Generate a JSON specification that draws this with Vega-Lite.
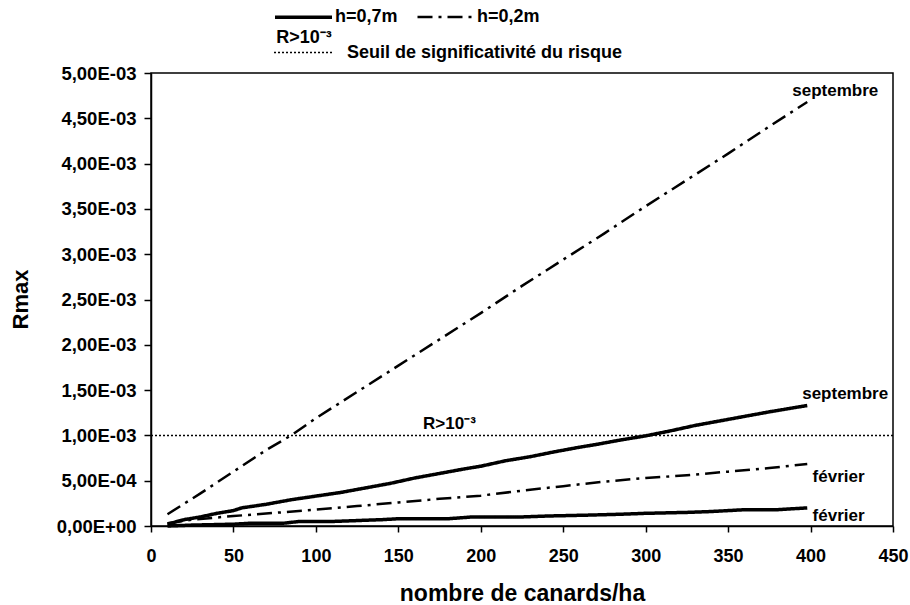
{
  "$schema": "https://vega.github.io/schema/vega-lite/v6.json",
  "width": 742,
  "height": 453,
  "autosize": {"type": "none"},
  "padding": {"left": 151, "top": 73, "right": 17, "bottom": 79},
  "background": "white",
  "config": {
    "view": {"stroke": "black", "strokeWidth": 1.5},
    "font": "Liberation Sans",
    "axis": {
      "grid": false,
      "domainColor": "black",
      "domainWidth": 1.5,
      "tickColor": "black",
      "tickWidth": 1.5,
      "labelFont": "Liberation Sans",
      "labelFontWeight": "bold",
      "labelFontSize": 18,
      "labelColor": "black",
      "titleFont": "Liberation Sans",
      "titleFontWeight": "bold",
      "titleFontSize": 23,
      "titleColor": "black"
    },
    "legend": {
      "orient": "none",
      "direction": "horizontal",
      "symbolType": "stroke",
      "symbolStrokeColor": "black",
      "labelFont": "Liberation Sans",
      "labelFontWeight": "bold",
      "labelFontSize": 18,
      "labelColor": "black",
      "labelLimit": 400,
      "padding": 0,
      "offset": 0
    }
  },
  "resolve": {
    "scale": {"strokeDash": "independent", "strokeWidth": "independent"},
    "legend": {"strokeDash": "independent", "strokeWidth": "independent"}
  },
  "datasets": {
    "curves": [
      {"h": "h=0,7m", "mois": "septembre", "x": 10, "y": 0.00002},
      {"h": "h=0,7m", "mois": "septembre", "x": 20, "y": 0.00007},
      {"h": "h=0,7m", "mois": "septembre", "x": 30, "y": 0.0001},
      {"h": "h=0,7m", "mois": "septembre", "x": 40, "y": 0.00014},
      {"h": "h=0,7m", "mois": "septembre", "x": 50, "y": 0.00017},
      {"h": "h=0,7m", "mois": "septembre", "x": 55, "y": 0.0002},
      {"h": "h=0,7m", "mois": "septembre", "x": 70, "y": 0.00024},
      {"h": "h=0,7m", "mois": "septembre", "x": 85, "y": 0.00029},
      {"h": "h=0,7m", "mois": "septembre", "x": 100, "y": 0.00033},
      {"h": "h=0,7m", "mois": "septembre", "x": 115, "y": 0.00037},
      {"h": "h=0,7m", "mois": "septembre", "x": 130, "y": 0.00042},
      {"h": "h=0,7m", "mois": "septembre", "x": 145, "y": 0.00047},
      {"h": "h=0,7m", "mois": "septembre", "x": 160, "y": 0.00053},
      {"h": "h=0,7m", "mois": "septembre", "x": 175, "y": 0.00058},
      {"h": "h=0,7m", "mois": "septembre", "x": 190, "y": 0.00063},
      {"h": "h=0,7m", "mois": "septembre", "x": 200, "y": 0.00066},
      {"h": "h=0,7m", "mois": "septembre", "x": 215, "y": 0.00072},
      {"h": "h=0,7m", "mois": "septembre", "x": 230, "y": 0.000765},
      {"h": "h=0,7m", "mois": "septembre", "x": 245, "y": 0.00082},
      {"h": "h=0,7m", "mois": "septembre", "x": 260, "y": 0.00087},
      {"h": "h=0,7m", "mois": "septembre", "x": 270, "y": 0.0009},
      {"h": "h=0,7m", "mois": "septembre", "x": 285, "y": 0.00095},
      {"h": "h=0,7m", "mois": "septembre", "x": 300, "y": 0.000995},
      {"h": "h=0,7m", "mois": "septembre", "x": 315, "y": 0.00105},
      {"h": "h=0,7m", "mois": "septembre", "x": 330, "y": 0.00111},
      {"h": "h=0,7m", "mois": "septembre", "x": 345, "y": 0.00116},
      {"h": "h=0,7m", "mois": "septembre", "x": 360, "y": 0.00121},
      {"h": "h=0,7m", "mois": "septembre", "x": 375, "y": 0.00126},
      {"h": "h=0,7m", "mois": "septembre", "x": 398, "y": 0.00133},
      {"h": "h=0,7m", "mois": "février", "x": 10, "y": 0.0},
      {"h": "h=0,7m", "mois": "février", "x": 25, "y": 0.00001},
      {"h": "h=0,7m", "mois": "février", "x": 50, "y": 0.00002},
      {"h": "h=0,7m", "mois": "février", "x": 60, "y": 0.00003},
      {"h": "h=0,7m", "mois": "février", "x": 80, "y": 0.00003},
      {"h": "h=0,7m", "mois": "février", "x": 90, "y": 0.00005},
      {"h": "h=0,7m", "mois": "février", "x": 110, "y": 0.00005},
      {"h": "h=0,7m", "mois": "février", "x": 125, "y": 0.00006},
      {"h": "h=0,7m", "mois": "février", "x": 140, "y": 0.00007},
      {"h": "h=0,7m", "mois": "février", "x": 150, "y": 0.00008},
      {"h": "h=0,7m", "mois": "février", "x": 180, "y": 0.00008},
      {"h": "h=0,7m", "mois": "février", "x": 195, "y": 0.0001},
      {"h": "h=0,7m", "mois": "février", "x": 225, "y": 0.0001},
      {"h": "h=0,7m", "mois": "février", "x": 240, "y": 0.00011},
      {"h": "h=0,7m", "mois": "février", "x": 265, "y": 0.00012},
      {"h": "h=0,7m", "mois": "février", "x": 285, "y": 0.00013},
      {"h": "h=0,7m", "mois": "février", "x": 300, "y": 0.00014},
      {"h": "h=0,7m", "mois": "février", "x": 325, "y": 0.00015},
      {"h": "h=0,7m", "mois": "février", "x": 340, "y": 0.00016},
      {"h": "h=0,7m", "mois": "février", "x": 360, "y": 0.00018},
      {"h": "h=0,7m", "mois": "février", "x": 380, "y": 0.00018},
      {"h": "h=0,7m", "mois": "février", "x": 398, "y": 0.0002},
      {"h": "h=0,2m", "mois": "septembre", "x": 10, "y": 0.00013},
      {"h": "h=0,2m", "mois": "septembre", "x": 30, "y": 0.00036},
      {"h": "h=0,2m", "mois": "septembre", "x": 50, "y": 0.0006},
      {"h": "h=0,2m", "mois": "septembre", "x": 70, "y": 0.00084},
      {"h": "h=0,2m", "mois": "septembre", "x": 85, "y": 0.001},
      {"h": "h=0,2m", "mois": "septembre", "x": 100, "y": 0.00119},
      {"h": "h=0,2m", "mois": "septembre", "x": 125, "y": 0.00148},
      {"h": "h=0,2m", "mois": "septembre", "x": 150, "y": 0.00177},
      {"h": "h=0,2m", "mois": "septembre", "x": 175, "y": 0.00206},
      {"h": "h=0,2m", "mois": "septembre", "x": 200, "y": 0.00235},
      {"h": "h=0,2m", "mois": "septembre", "x": 225, "y": 0.00265},
      {"h": "h=0,2m", "mois": "septembre", "x": 250, "y": 0.00294},
      {"h": "h=0,2m", "mois": "septembre", "x": 275, "y": 0.00323},
      {"h": "h=0,2m", "mois": "septembre", "x": 300, "y": 0.00353},
      {"h": "h=0,2m", "mois": "septembre", "x": 325, "y": 0.00382},
      {"h": "h=0,2m", "mois": "septembre", "x": 350, "y": 0.00411},
      {"h": "h=0,2m", "mois": "septembre", "x": 375, "y": 0.00441},
      {"h": "h=0,2m", "mois": "septembre", "x": 398, "y": 0.00468},
      {"h": "h=0,2m", "mois": "février", "x": 10, "y": 0.00003},
      {"h": "h=0,2m", "mois": "février", "x": 25, "y": 0.00007},
      {"h": "h=0,2m", "mois": "février", "x": 50, "y": 0.00011},
      {"h": "h=0,2m", "mois": "février", "x": 75, "y": 0.000145},
      {"h": "h=0,2m", "mois": "février", "x": 100, "y": 0.00018},
      {"h": "h=0,2m", "mois": "février", "x": 125, "y": 0.00022},
      {"h": "h=0,2m", "mois": "février", "x": 150, "y": 0.00026},
      {"h": "h=0,2m", "mois": "février", "x": 175, "y": 0.0003},
      {"h": "h=0,2m", "mois": "février", "x": 200, "y": 0.000335},
      {"h": "h=0,2m", "mois": "février", "x": 225, "y": 0.00039},
      {"h": "h=0,2m", "mois": "février", "x": 250, "y": 0.00044},
      {"h": "h=0,2m", "mois": "février", "x": 275, "y": 0.00049},
      {"h": "h=0,2m", "mois": "février", "x": 300, "y": 0.00053},
      {"h": "h=0,2m", "mois": "février", "x": 325, "y": 0.00056},
      {"h": "h=0,2m", "mois": "février", "x": 350, "y": 0.0006},
      {"h": "h=0,2m", "mois": "février", "x": 375, "y": 0.00064},
      {"h": "h=0,2m", "mois": "février", "x": 398, "y": 0.000685}
    ],
    "seuil": [
      {"h": "Seuil de significativité du risque", "y": 0.001}
    ],
    "labels": [
      {"x": 415, "y": 0.0048, "label": "septembre"},
      {"x": 421, "y": 0.001457, "label": "septembre"},
      {"x": 417, "y": 0.00054, "label": "février"},
      {"x": 417, "y": 0.000114, "label": "février"},
      {"x": 181, "y": 0.001126, "label": "R>10⁻³"}
    ],
    "legendnote": [
      {"x": 92.8, "y": 0.00539, "label": "R>10⁻³"}
    ]
  },
  "encoding": {
    "x": {
      "field": "x",
      "type": "quantitative",
      "scale": {"domain": [0, 450], "nice": false, "zero": false},
      "axis": {
        "title": "nombre de canards/ha",
        "values": [0, 50, 100, 150, 200, 250, 300, 350, 400, 450],
        "tickSize": 6,
        "labelPadding": 15,
        "labelFlush": false,
        "titleY": 74,
        "titleBaseline": "alphabetic"
      }
    },
    "y": {
      "field": "y",
      "type": "quantitative",
      "scale": {"domain": [0, 0.005], "nice": false, "zero": false},
      "axis": {
        "title": "Rmax",
        "values": [0, 0.0005, 0.001, 0.0015, 0.002, 0.0025, 0.003, 0.0035, 0.004, 0.0045, 0.005],
        "labelExpr": "datum.value == 0 ? '0,00E+00' : replace(format(datum.value / pow(10, floor(log(datum.value) / LN10 + 1e-9)), '.2f'), '.', ',') + 'E-0' + (-floor(log(datum.value) / LN10 + 1e-9))",
        "tickSize": 7,
        "labelPadding": 8,
        "labelFontSize": 18.5,
        "titleFontSize": 22,
        "titleX": -131,
        "titleY": 226,
        "titleBaseline": "middle"
      }
    }
  },
  "layer": [
    {
      "data": {"name": "seuil"},
      "mark": {"type": "rule", "color": "black", "strokeWidth": 1.5},
      "encoding": {
        "x": null,
        "strokeDash": {
          "field": "h",
          "type": "nominal",
          "title": null,
          "scale": {
            "domain": ["Seuil de significativité du risque"],
            "range": [[2, 2]]
          },
          "legend": {"legendX": 122, "legendY": -51.5, "symbolSize": 3600, "symbolStrokeWidth": 1.5, "labelOffset": 12}
        }
      }
    },
    {
      "data": {"name": "curves"},
      "mark": {"type": "line", "color": "black", "strokeJoin": "round"},
      "encoding": {
        "detail": {"field": "mois", "type": "nominal"},
        "strokeDash": {
          "field": "h",
          "type": "nominal",
          "title": null,
          "scale": {
            "domain": ["h=0,7m", "h=0,2m"],
            "range": [[1, 0], [15, 6, 3, 6]]
          },
          "legend": {"legendX": 122, "legendY": -86.5, "symbolSize": 3249, "labelOffset": 1, "columnPadding": 14}
        },
        "strokeWidth": {
          "field": "h",
          "type": "nominal",
          "title": null,
          "scale": {
            "domain": ["h=0,7m", "h=0,2m"],
            "range": [3.5, 2.5]
          },
          "legend": {"legendX": 122, "legendY": -86.5, "symbolSize": 3249, "labelOffset": 1, "columnPadding": 14}
        }
      }
    },
    {
      "data": {"name": "labels"},
      "mark": {"type": "text", "font": "Liberation Sans", "fontWeight": "bold", "fontSize": 17, "color": "black", "align": "center", "baseline": "middle"},
      "encoding": {
        "text": {"field": "label", "type": "nominal"}
      }
    },
    {
      "data": {"name": "legendnote"},
      "mark": {"type": "text", "font": "Liberation Sans", "fontWeight": "bold", "fontSize": 18, "color": "black", "align": "center", "baseline": "middle"},
      "encoding": {
        "text": {"field": "label", "type": "nominal"}
      }
    }
  ]
}
